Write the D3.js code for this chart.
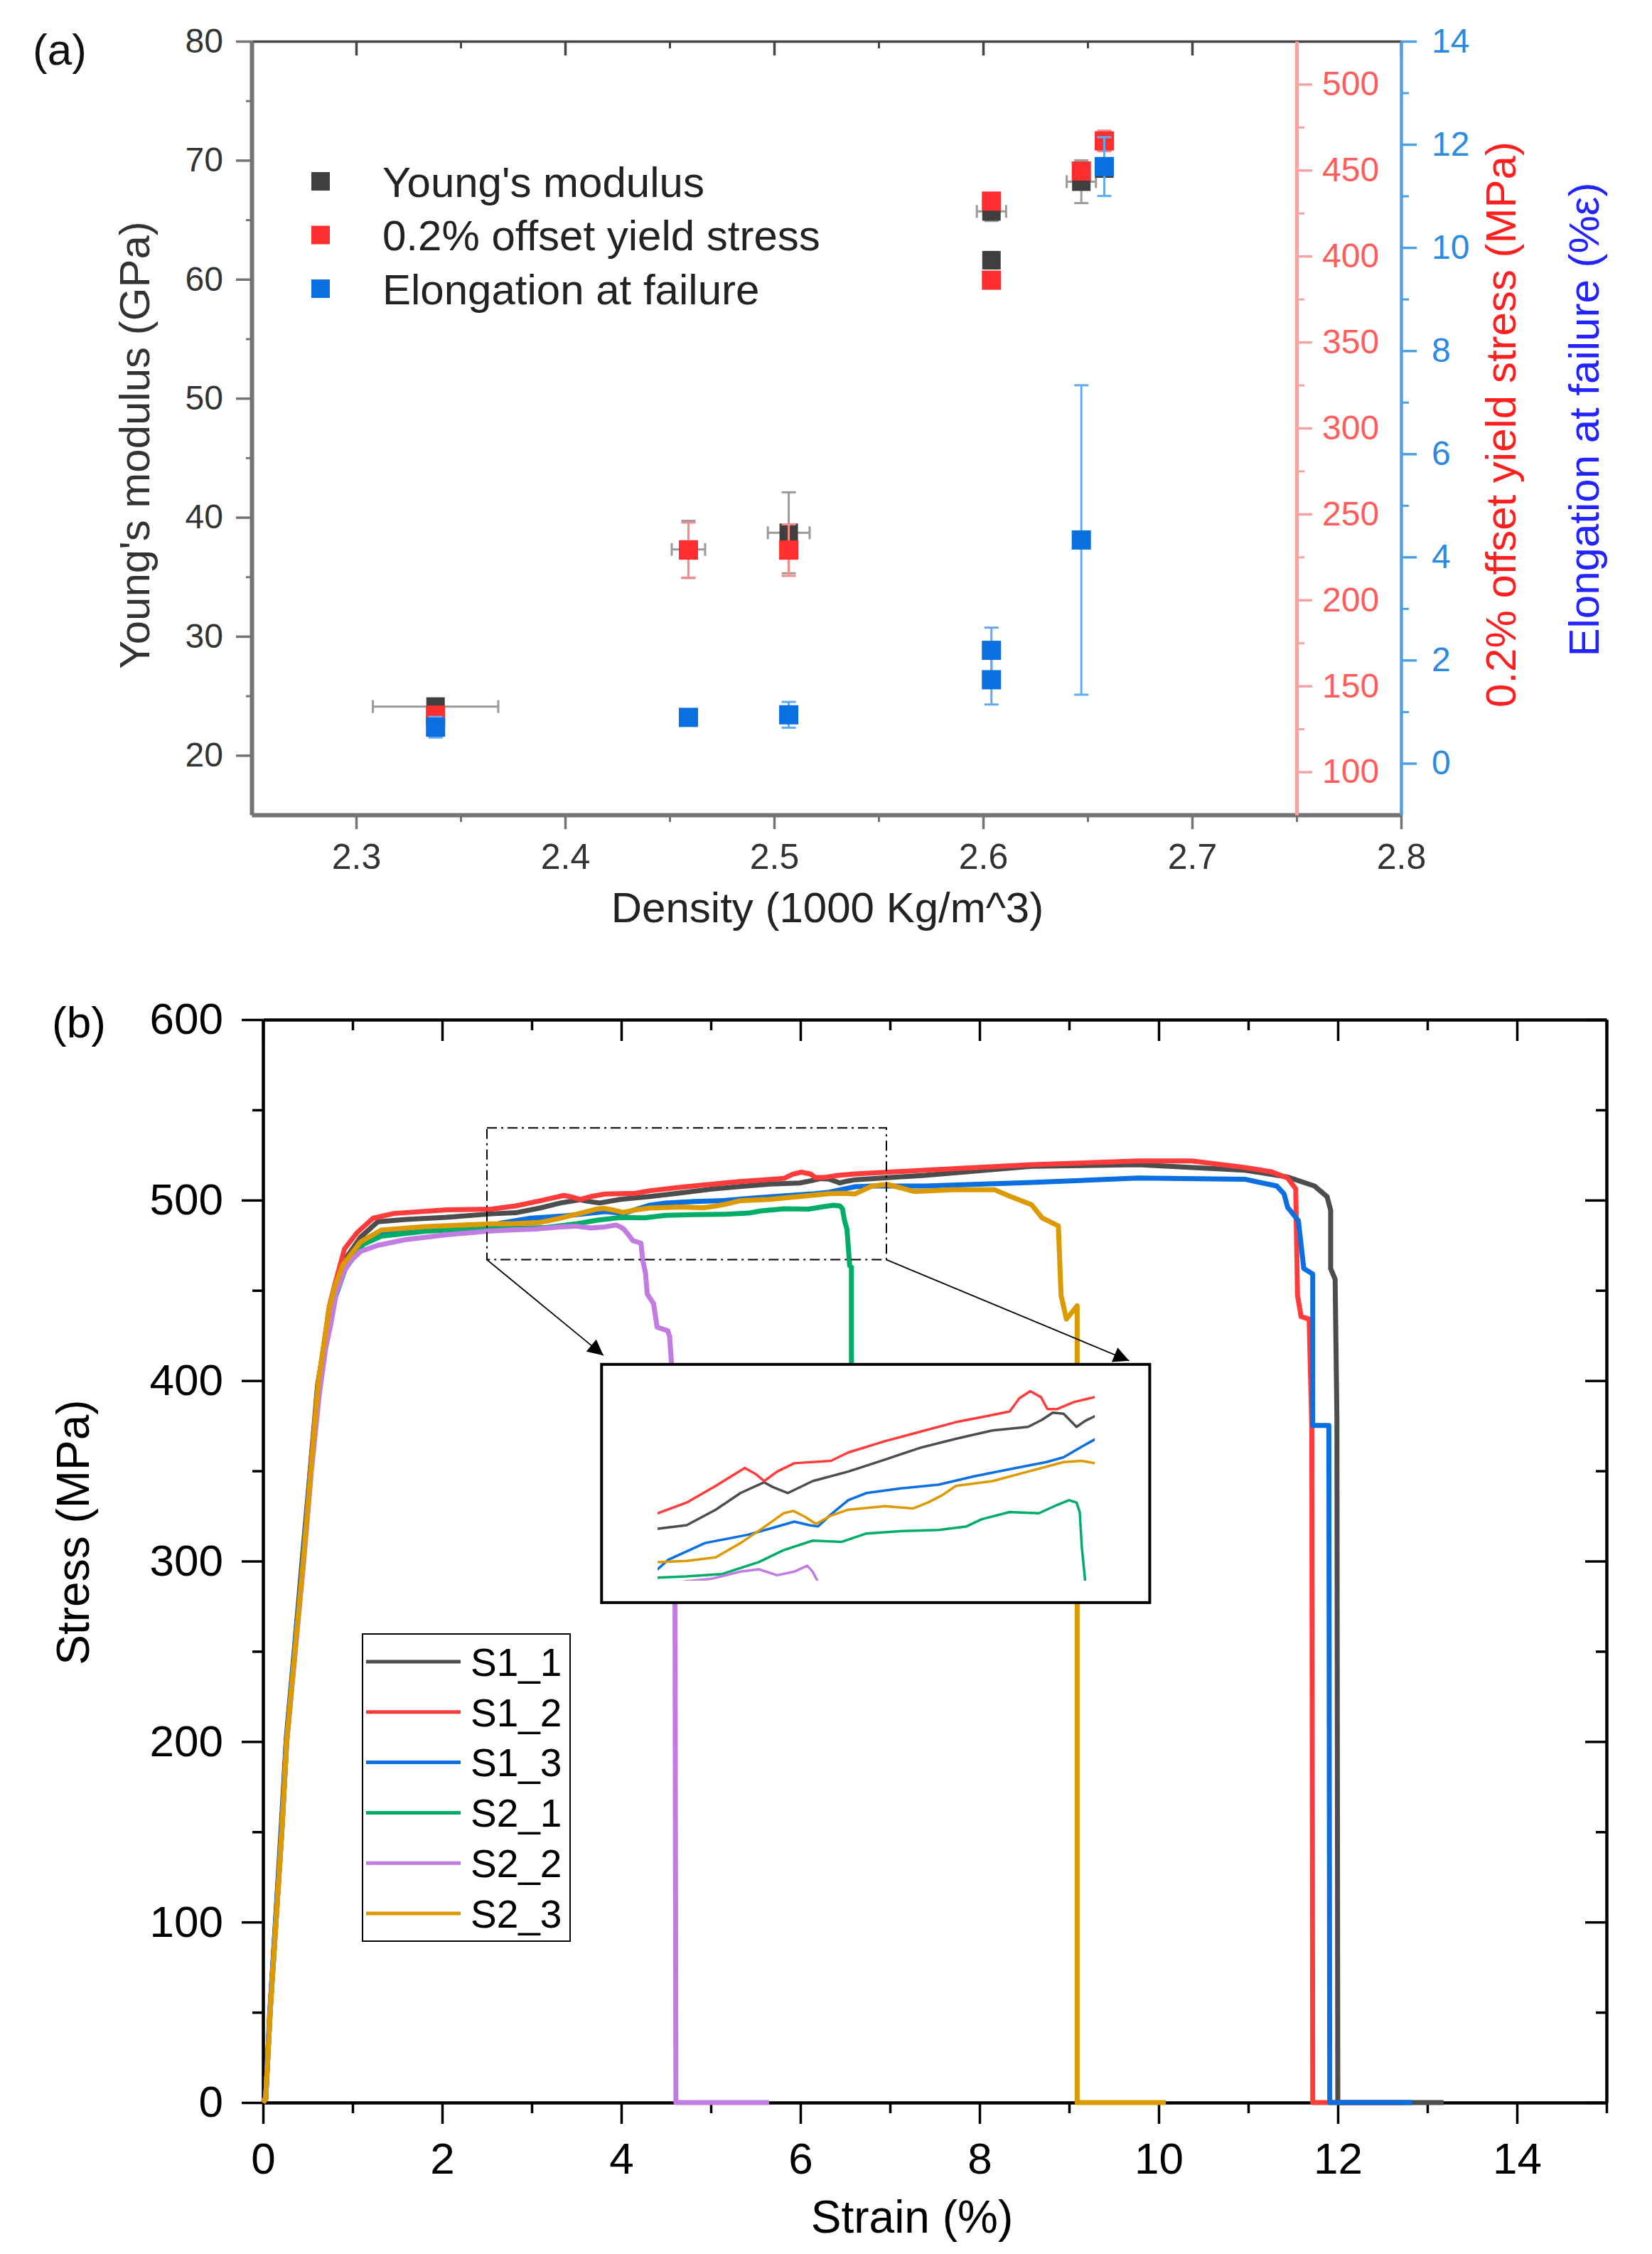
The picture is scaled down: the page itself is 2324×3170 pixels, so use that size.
<!DOCTYPE html>
<html>
<head>
<meta charset="utf-8">
<script src="https://cdn.jsdelivr.net/npm/d3@7"></script>
<style>
  body { margin: 0; background: #fff; }
  svg { display: block; }
</style>
</head>
<body>
<div id="chart"></div>
<script>
// ---- panel (a) data ----
const densities = [2.338, 2.459, 2.507, 2.604, 2.604, 2.647, 2.658];
const densityErr = [0.03, 0.008, 0.01, 0.007, 0.002, 0.007, 0];
const youngsModulus = [24.1, 37.3, 38.7, 65.7, 61.6, 68.2, 69.3];
const youngsErr = [0.5, 2.4, 3.4, 0.8, 0.7, 1.8, 0.5];
const yieldStress = [133, 229, 229, 432, 386, 449.5, 467];
const yieldErr = [3, 16, 15, 4, 3, 4, 6];
const elongation = [0.7, 0.89, 0.94, 2.19, 1.62, 4.33, 11.57];
const elongationErr = [0.2, 0.1, 0.25, 0.44, 0.48, 3.0, 0.57];

const aLegend = ["Young's modulus", "0.2% offset yield stress", "Elongation at failure"];
const densityTicks = [2.3, 2.4, 2.5, 2.6, 2.7, 2.8];
const modulusTicks = [20, 30, 40, 50, 60, 70, 80];
const yieldTicks = [100, 150, 200, 250, 300, 350, 400, 450, 500];
const elongTicks = [0, 2, 4, 6, 8, 10, 12, 14];

// ---- panel (b) data: [strain %, stress MPa] ----
const S1_1 = [[0,0],[0.03,2],[0.08,52],[0.14,101],[0.20,150],[0.26,202],[0.35,251],[0.44,302],[0.53,352],[0.61,398],[0.68,418],[0.74,437],[0.80,450],[0.90,466],[1.09,479.5],[1.28,488],[1.60,489.3],[2.05,490.5],[2.55,492.4],[2.82,493.0],[3.09,495.6],[3.32,498.4],[3.54,500.2],[3.62,499.4],[3.76,498.4],[3.99,500.4],[4.32,502.0],[4.66,504.0],[4.99,506.0],[5.32,507.5],[5.66,508.9],[5.99,509.5],[6.12,510.7],[6.22,511.9],[6.32,511.7],[6.44,509.5],[6.52,510.5],[6.61,511.3],[7.39,513.7],[8.58,518.7],[9.77,519.6],[10.96,516.6],[11.44,512.8],[11.74,507.8],[11.88,501.9],[11.92,494.5],[11.92,462.1],[11.97,456.2],[11.99,379.5],[12.0,0],[13.18,0]];
const S1_2 = [[0,0],[0.03,2],[0.08,51],[0.145,101],[0.21,151],[0.265,201],[0.355,251],[0.45,301],[0.53,352],[0.62,400],[0.68,420],[0.74,441],[0.80,453],[0.91,473],[1.05,482],[1.23,490],[1.46,492.6],[2.05,494.6],[2.55,495.0],[2.82,496.8],[3.09,499.6],[3.36,502.6],[3.46,501.6],[3.54,500.4],[3.66,502.0],[3.82,503.4],[4.16,503.8],[4.32,505.2],[4.66,507.1],[4.99,508.7],[5.32,510.3],[5.66,511.5],[5.82,512.1],[5.91,514.3],[6.01,515.5],[6.11,514.5],[6.17,512.5],[6.26,512.5],[6.42,513.7],[6.61,514.5],[7.39,516.6],[8.58,519.6],[9.77,521.7],[10.37,521.7],[10.96,518.1],[11.26,515.7],[11.44,512.2],[11.53,506.3],[11.55,447.3],[11.59,435.5],[11.68,434.1],[11.71,373.6],[11.72,0],[12.76,0]];
const S1_3 = [[0,0],[0.03,3],[0.075,50],[0.14,100],[0.205,150],[0.26,200],[0.35,250],[0.445,300],[0.53,350],[0.62,397],[0.68,416],[0.74,434],[0.80,447],[0.92,464],[1.14,476.9],[1.32,482],[1.60,484],[2.05,485],[2.55,485.6],[2.65,487.2],[2.99,490.0],[3.39,491.4],[3.59,492.4],[3.82,493.6],[3.96,493.0],[4.04,492.8],[4.16,494.8],[4.32,497.2],[4.49,498.4],[4.82,499.2],[5.16,499.8],[5.49,501.2],[5.82,502.4],[6.16,503.6],[6.32,504.4],[6.49,506.2],[6.61,507.4],[6.80,507.8],[7.39,507.8],[8.58,509.8],[9.77,512.2],[10.96,511.6],[11.32,507.8],[11.40,503.4],[11.44,496],[11.56,488.6],[11.62,462.1],[11.72,459.1],[11.72,375.1],[11.90,375.1],[11.91,0],[12.83,0]];
const S2_1 = [[0,0],[0.03,2],[0.08,50],[0.145,100],[0.21,150],[0.265,200],[0.357,250],[0.45,300],[0.535,350],[0.62,396],[0.68,414],[0.74,432],[0.80,445],[0.92,462],[1.12,475.5],[1.32,480],[1.82,482.8],[2.30,484],[2.55,484.2],[2.82,484.4],[3.15,484.8],[3.49,486.8],[3.72,488.8],[3.99,490.4],[4.26,490.2],[4.49,491.6],[4.82,492.0],[5.16,492.2],[5.42,492.8],[5.56,494.0],[5.82,495.2],[6.09,495.0],[6.26,496.4],[6.37,497.2],[6.44,496.8],[6.47,495.2],[6.49,489.2],[6.52,483.8],[6.55,463.7],[6.57,463],[6.57,411],[6.57,320]];
const S2_2 = [[0,0],[0.03,3],[0.08,51],[0.145,100],[0.21,150],[0.265,200],[0.36,250],[0.455,300],[0.54,350],[0.63,393],[0.70,418],[0.76,432],[0.82,449],[0.91,461],[0.98,466.4],[1.09,471.6],[1.28,474.9],[1.60,478.2],[2.05,480.8],[2.51,482.8],[2.82,483.6],[3.05,484.0],[3.32,485.2],[3.49,485.6],[3.66,484.6],[3.82,485.2],[3.94,486.2],[3.99,485.2],[4.03,483.8],[4.08,480.8],[4.13,477.5],[4.22,476.2],[4.24,466.4],[4.27,459.8],[4.29,448],[4.36,442.7],[4.40,429.6],[4.52,427.6],[4.54,424.4],[4.56,409.9],[4.60,300],[4.60,270],[4.61,0],[5.65,0]];
const S2_3 = [[0,0],[0.03,2],[0.08,50],[0.145,100],[0.21,150],[0.264,200],[0.357,250],[0.45,300],[0.534,350],[0.62,400],[0.68,420],[0.74,440],[0.80,452],[0.89,464],[1.09,476.9],[1.32,483.4],[1.82,485.4],[2.30,486.3],[2.55,486.8],[2.82,487.0],[3.09,487.6],[3.32,490.0],[3.55,492.8],[3.72,495.0],[3.81,495.4],[3.92,494.4],[4.02,493.2],[4.16,494.6],[4.32,495.6],[4.66,496.2],[4.92,495.8],[5.06,496.8],[5.19,498.0],[5.32,499.6],[5.66,500.4],[5.99,502.0],[6.32,503.6],[6.49,503.8],[6.61,503.4],[6.80,507.8],[6.97,508.7],[7.27,504.8],[7.69,505.7],[8.17,505.7],[8.35,501.9],[8.58,497.5],[8.70,490.1],[8.88,485.7],[8.91,447.3],[8.97,434.1],[9.09,441.4],[9.09,0],[10.08,0]];

const curveNames = ["S1_1", "S1_2", "S1_3", "S2_1", "S2_2", "S2_3"];
const curveData = [S1_1, S1_2, S1_3, S2_1, S2_2, S2_3];
const curveColors = ["#4d4d4d", "#ff3b3b", "#0a6fe0", "#00ad68", "#c27be0", "#dd9a00"];
const strainTicks = [0, 2, 4, 6, 8, 10, 12, 14];
const stressTicks = [0, 100, 200, 300, 400, 500, 600];

// zoom window, inset placement and arrows in (strain, stress) units
const zoomWindow = [[2.5, 467], [6.96, 540]];
const insetPlace = [[3.78, 409], [9.9, 277]];
const insetDomainX = [2.03, 7.12];
const insetDomainY = [480, 520];
const insetShown = [[2.55, 520], [6.61, 483.7]];
const arrowTips = [[3.8, 414], [9.67, 411]];

const FONT = "'Liberation Sans', Arial, Helvetica, sans-serif";

const svg = d3
  .select("#chart")
  .append("svg")
  .attr("width", 2324)
  .attr("height", 3170)
  .style("font-family", FONT);

svg.append("rect").attr("width", 2324).attr("height", 3170).attr("fill", "#fff");

function axisStyle(g, color, width, size, textColor) {
  g.attr("font-family", FONT).attr("font-size", size);
  g.select(".domain").attr("stroke", color).attr("stroke-width", width);
  g.selectAll(".tick line").attr("stroke", color).attr("stroke-width", Math.min(width, 3.5));
  g.selectAll(".tick text").attr("fill", textColor);
}

function minorAxis(g, color, width) {
  g.select(".domain").remove();
  g.selectAll(".tick line").attr("stroke", color).attr("stroke-width", width);
}

// ================= panel (a) =================
const xa = d3.scaleLinear().domain([2.25, 2.8]).range([354, 1971]);
const yMod = d3.scaleLinear().domain([15, 80]).range([1146, 58]);
const yYield = d3.scaleLinear().domain([75, 525]).range([1146, 58]);
const yElong = d3.scaleLinear().domain([-1, 14]).range([1146, 58]);

const aGray = "#737373";

// top axis (ticks inward)
svg.append("g").attr("transform", "translate(0,58)")
  .call(d3.axisTop(xa).tickValues(densityTicks).tickSize(-20).tickSizeOuter(0).tickFormat(""))
  .call((g) => axisStyle(g, "#444", 3.5, 48, "#333"));
svg.append("g").attr("transform", "translate(0,58)")
  .call(d3.axisTop(xa).tickValues(d3.range(2.35, 2.8, 0.1)).tickSize(-10).tickFormat(""))
  .call((g) => minorAxis(g, "#444", 3));

// bottom axis
svg.append("g").attr("transform", "translate(0,1146)")
  .call(d3.axisBottom(xa).tickValues(densityTicks).tickSize(20).tickSizeOuter(0).tickPadding(20).tickFormat(d3.format(".1f")))
  .call((g) => axisStyle(g, aGray, 6, 50, "#333"));
svg.append("g").attr("transform", "translate(0,1146)")
  .call(d3.axisBottom(xa).tickValues(d3.range(2.35, 2.8, 0.1)).tickSize(10).tickFormat(""))
  .call((g) => minorAxis(g, aGray, 3));

// left axis
svg.append("g").attr("transform", "translate(354,0)")
  .call(d3.axisLeft(yMod).tickValues(modulusTicks).tickSize(22).tickSizeOuter(0).tickPadding(18))
  .call((g) => axisStyle(g, aGray, 6, 48, "#333"));
svg.append("g").attr("transform", "translate(354,0)")
  .call(d3.axisLeft(yMod).tickValues(d3.range(25, 80, 10)).tickSize(8).tickFormat(""))
  .call((g) => minorAxis(g, aGray, 3));

// red axis
const redAxisColor = "#f4a3a3";
svg.append("g").attr("transform", "translate(" + xa(2.75) + ",0)")
  .call(d3.axisRight(yYield).tickValues(yieldTicks).tickSize(22).tickSizeOuter(0).tickPadding(14))
  .call((g) => axisStyle(g, redAxisColor, 5, 48, "#ff5c5c"));
svg.append("g").attr("transform", "translate(" + xa(2.75) + ",0)")
  .call(d3.axisRight(yYield).tickValues(d3.range(125, 525, 50)).tickSize(11).tickFormat(""))
  .call((g) => minorAxis(g, redAxisColor, 3));

// blue axis
const blueAxisColor = "#4d9fe6";
svg.append("g").attr("transform", "translate(" + xa(2.8) + ",0)")
  .call(d3.axisRight(yElong).tickValues(elongTicks).tickSize(22).tickSizeOuter(0).tickPadding(21))
  .call((g) => axisStyle(g, blueAxisColor, 4.5, 48, "#2b8ae0"));
svg.append("g").attr("transform", "translate(" + xa(2.8) + ",0)")
  .call(d3.axisRight(yElong).tickValues(d3.range(1, 14, 2)).tickSize(11).tickFormat(""))
  .call((g) => minorAxis(g, blueAxisColor, 3));

// scatter with error bars
function drawErrSeries(values, errs, xErrs, yScale, color, errColor, size) {
  const g = svg.append("g");
  const cap = 10;
  densities.forEach((d, i) => {
    const cx = xa(d);
    const y0 = yScale(values[i] - errs[i]);
    const y1 = yScale(values[i] + errs[i]);
    g.append("line").attr("x1", cx).attr("x2", cx).attr("y1", y0).attr("y2", y1)
      .attr("stroke", errColor).attr("stroke-width", 3);
    [y0, y1].forEach((yy) => {
      g.append("line").attr("x1", cx - cap).attr("x2", cx + cap).attr("y1", yy).attr("y2", yy)
        .attr("stroke", errColor).attr("stroke-width", 3);
    });
    if (xErrs && xErrs[i] > 0) {
      const cy = yScale(values[i]);
      const xl = xa(d - xErrs[i]);
      const xr = xa(d + xErrs[i]);
      g.append("line").attr("x1", xl).attr("x2", xr).attr("y1", cy).attr("y2", cy)
        .attr("stroke", errColor).attr("stroke-width", 3);
      [xl, xr].forEach((xx) => {
        g.append("line").attr("x1", xx).attr("x2", xx).attr("y1", cy - 9).attr("y2", cy + 9)
          .attr("stroke", errColor).attr("stroke-width", 3);
      });
    }
  });
  g.selectAll("rect")
    .data(densities)
    .enter()
    .append("rect")
    .attr("x", (d) => xa(d) - size / 2)
    .attr("y", (d, i) => yScale(values[i]) - size / 2)
    .attr("width", size)
    .attr("height", size)
    .attr("fill", color);
}

const aColors = ["#3f3f3f", "#ff2f2f", "#0a70e0"];
drawErrSeries(youngsModulus, youngsErr, densityErr, yMod, aColors[0], "#9a9a9a", 26);
drawErrSeries(yieldStress, yieldErr, null, yYield, aColors[1], "#f78a8a", 27);
drawErrSeries(elongation, elongationErr, null, yElong, aColors[2], "#62aaf0", 27);

// legend (a)
aLegend.forEach((name, i) => {
  const cy = 255 + i * 75.5;
  svg.append("rect").attr("x", 438).attr("y", cy - 13).attr("width", 26).attr("height", 26).attr("fill", aColors[i]);
  svg.append("text").attr("x", 538).attr("y", cy).attr("dy", "0.36em")
    .attr("font-size", 60).attr("fill", "#222").text(name);
});

// titles (a)
svg.append("text").attr("x", 46).attr("y", 91).attr("font-size", 62).attr("fill", "#111").text("(a)");
svg.append("text")
  .attr("transform", "translate(210,626) rotate(-90)")
  .attr("text-anchor", "middle").attr("font-size", 60).attr("fill", "#333")
  .text("Young's modulus (GPa)");
svg.append("text")
  .attr("x", 1164).attr("y", 1297)
  .attr("text-anchor", "middle").attr("font-size", 60).attr("fill", "#222")
  .text("Density (1000 Kg/m^3)");
svg.append("text")
  .attr("transform", "translate(2132,597) rotate(-90)")
  .attr("text-anchor", "middle").attr("font-size", 60).attr("fill", "#ff1f1f")
  .text("0.2% offset yield stress (MPa)");
svg.append("text")
  .attr("transform", "translate(2249,590) rotate(-90)")
  .attr("text-anchor", "middle").attr("font-size", 60).attr("fill", "#2323ff")
  .text("Elongation at failure (%\u03b5)");

// ================= panel (b) =================
const xb = d3.scaleLinear().domain([0, 15]).range([370, 2260]);
const yb = d3.scaleLinear().domain([0, 600]).range([2957, 1434]);

svg.append("g").attr("transform", "translate(0,1434)")
  .call(d3.axisTop(xb).tickValues(strainTicks).tickSize(-30).tickSizeOuter(0).tickFormat(""))
  .call((g) => axisStyle(g, "#000", 4.5, 62, "#000"));
svg.append("g").attr("transform", "translate(0,1434)")
  .call(d3.axisTop(xb).tickValues(d3.range(1, 16, 2)).tickSize(-15).tickFormat(""))
  .call((g) => minorAxis(g, "#000", 3.5));

svg.append("g").attr("transform", "translate(2260,0)")
  .call(d3.axisRight(yb).tickValues(stressTicks).tickSize(-30).tickSizeOuter(0).tickFormat(""))
  .call((g) => axisStyle(g, "#000", 4.5, 62, "#000"));
svg.append("g").attr("transform", "translate(2260,0)")
  .call(d3.axisRight(yb).tickValues(d3.range(50, 600, 100)).tickSize(-15).tickFormat(""))
  .call((g) => minorAxis(g, "#000", 3.5));

svg.append("g").attr("transform", "translate(0,2957)")
  .call(d3.axisBottom(xb).tickValues(strainTicks).tickSize(30).tickSizeOuter(0).tickPadding(26))
  .call((g) => axisStyle(g, "#000", 4.5, 62, "#000"));
svg.append("g").attr("transform", "translate(0,2957)")
  .call(d3.axisBottom(xb).tickValues(d3.range(1, 16, 2)).tickSize(15).tickFormat(""))
  .call((g) => minorAxis(g, "#000", 3.5));

svg.append("g").attr("transform", "translate(370,0)")
  .call(d3.axisLeft(yb).tickValues(stressTicks).tickSize(30).tickSizeOuter(0).tickPadding(26))
  .call((g) => axisStyle(g, "#000", 4.5, 62, "#000"));
svg.append("g").attr("transform", "translate(370,0)")
  .call(d3.axisLeft(yb).tickValues(d3.range(50, 600, 100)).tickSize(15).tickFormat(""))
  .call((g) => minorAxis(g, "#000", 3.5));

// curves
const lineB = d3.line().x((d) => xb(d[0])).y((d) => yb(d[1]));
svg.append("g")
  .selectAll("path")
  .data(curveData)
  .enter()
  .append("path")
  .attr("d", lineB)
  .attr("fill", "none")
  .attr("stroke", (d, i) => curveColors[i])
  .attr("stroke-width", 7)
  .attr("stroke-linejoin", "round");

// zoom window and arrows
svg.append("rect")
  .attr("x", xb(zoomWindow[0][0]))
  .attr("y", yb(zoomWindow[1][1]))
  .attr("width", xb(zoomWindow[1][0]) - xb(zoomWindow[0][0]))
  .attr("height", yb(zoomWindow[0][1]) - yb(zoomWindow[1][1]))
  .attr("fill", "none").attr("stroke", "#000").attr("stroke-width", 2)
  .attr("stroke-dasharray", "14,6,3,6");

svg.append("defs").append("marker")
  .attr("id", "arrowHead")
  .attr("viewBox", "0 0 10 10")
  .attr("refX", 10).attr("refY", 5)
  .attr("markerUnits", "userSpaceOnUse")
  .attr("markerWidth", 38).attr("markerHeight", 22)
  .attr("orient", "auto")
  .append("path").attr("d", "M0,0 L10,5 L0,10 z").attr("fill", "#000");

[[zoomWindow[0][0], zoomWindow[0][1]], [zoomWindow[1][0], zoomWindow[0][1]]].forEach((p, i) => {
  svg.append("line")
    .attr("x1", xb(p[0])).attr("y1", yb(p[1]))
    .attr("x2", xb(arrowTips[i][0])).attr("y2", yb(arrowTips[i][1]))
    .attr("stroke", "#000").attr("stroke-width", 1.8)
    .attr("marker-end", "url(#arrowHead)");
});

// inset
const ix0 = xb(insetPlace[0][0]), ix1 = xb(insetPlace[1][0]);
const iy0 = yb(insetPlace[0][1]), iy1 = yb(insetPlace[1][1]);
const xi = d3.scaleLinear().domain(insetDomainX).range([ix0, ix1]);
const yi = d3.scaleLinear().domain(insetDomainY).range([iy1, iy0]);

svg.append("rect").attr("x", ix0).attr("y", iy0).attr("width", ix1 - ix0).attr("height", iy1 - iy0)
  .attr("fill", "#fff").attr("stroke", "#000").attr("stroke-width", 4);

svg.select("defs").append("clipPath").attr("id", "insetClip")
  .append("rect")
  .attr("x", xi(insetShown[0][0])).attr("y", yi(insetShown[0][1]))
  .attr("width", xi(insetShown[1][0]) - xi(insetShown[0][0]))
  .attr("height", yi(insetShown[1][1]) - yi(insetShown[0][1]));

const lineI = d3.line().x((d) => xi(d[0])).y((d) => yi(d[1]));
svg.append("g")
  .attr("clip-path", "url(#insetClip)")
  .selectAll("path")
  .data(curveData)
  .enter()
  .append("path")
  .attr("d", lineI)
  .attr("fill", "none")
  .attr("stroke", (d, i) => curveColors[i])
  .attr("stroke-width", 3.5)
  .attr("stroke-linejoin", "round");

// legend (b)
const legB = svg.append("g");
legB.append("rect").attr("x", 510).attr("y", 2298).attr("width", 292).attr("height", 432)
  .attr("fill", "#fff").attr("stroke", "#000").attr("stroke-width", 2);
curveNames.forEach((name, i) => {
  const cy = 2337 + i * 70.8;
  legB.append("line").attr("x1", 515).attr("x2", 648).attr("y1", cy).attr("y2", cy)
    .attr("stroke", curveColors[i]).attr("stroke-width", 5);
  legB.append("text").attr("x", 662).attr("y", cy).attr("dy", "0.36em")
    .attr("font-size", 55).attr("fill", "#000").text(name);
});

// titles (b)
svg.append("text").attr("x", 73).attr("y", 1459).attr("font-size", 62).attr("fill", "#000").text("(b)");
svg.append("text")
  .attr("transform", "translate(125,2155) rotate(-90)")
  .attr("text-anchor", "middle").attr("font-size", 64).attr("fill", "#000")
  .text("Stress (MPa)");
svg.append("text")
  .attr("x", 1283).attr("y", 3140)
  .attr("text-anchor", "middle").attr("font-size", 64).attr("fill", "#000")
  .text("Strain (%)");
</script>
</body>
</html>
